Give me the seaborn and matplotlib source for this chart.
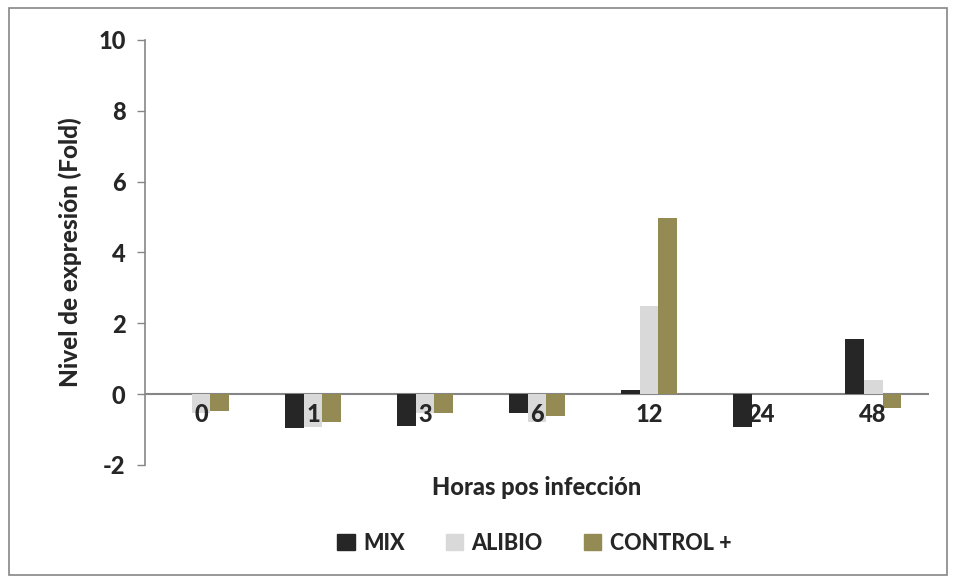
import pandas as pd
import seaborn as sns
import matplotlib.pyplot as plt
from matplotlib.patches import Rectangle

horas = ['0', '1', '3', '6', '12', '24', '48']
mix = [0.0, -0.96, -0.9, -0.54, 0.11, -0.92, 1.56]
alibio = [-0.54, -0.92, -0.54, -0.78, 2.5, 0.0, 0.39]
control = [-0.48, -0.78, -0.53, -0.62, 4.98, 0.0, -0.39]
series = ['MIX', 'ALIBIO', 'CONTROL +']
colores = ['#262626', '#d9d9d9', '#948a54']

df = pd.DataFrame({'hora': horas * 3,
                   'serie': [s for s in series for _ in horas],
                   'valor': mix + alibio + control})

sns.set_style('white')
plt.rcParams['font.family'] = ['Lato', 'DejaVu Sans']

fig = plt.figure(figsize=(9.54, 5.79), dpi=100)
ax = fig.add_axes([0.152, 0.197, 0.822, 0.734])
sns.barplot(data=df, x='hora', y='valor', hue='serie', order=horas,
            hue_order=series, palette=colores, width=0.5, ax=ax,
            saturation=1, edgecolor='none', linewidth=0)

ax.set_ylim(-2, 10)
ax.set_xlim(-0.5, 6.5)
ax.set_yticks(range(-2, 11, 2))
ax.set_yticklabels([str(v) for v in range(-2, 11, 2)], fontsize=17, fontweight=900)
ax.tick_params(axis='y', direction='out', length=6, width=1, color='#868686', pad=8, left=True)
ax.set_xticks([])
ax.axhline(0, color='#868686', lw=1.5, zorder=0)
for s in ['top', 'right', 'bottom']:
    ax.spines[s].set_visible(False)
ax.spines['left'].set_color('#868686')
ax.spines['left'].set_linewidth(1.2)

for i, h in enumerate(horas):
    ax.text(i, -0.25, h, ha='center', va='top', fontsize=17, fontweight=900)

ax.set_xlabel('')
ax.set_ylabel('Nivel de expresión (Fold)', fontsize=17.5, fontweight=900, labelpad=12)
fig.text(0.563, 0.158, 'Horas pos infección', ha='center', va='center',
         fontsize=17, fontweight=900)

ax.get_legend().remove()
handles = [Rectangle((0, 0), 1, 1, color=c) for c in colores]
fig.legend(handles, series, loc='center', bbox_to_anchor=(0.56, 0.062), ncol=3,
           frameon=False, handlelength=0.8, handleheight=0.8, columnspacing=1.9,
           handletextpad=0.4, prop={'size': 15.5, 'weight': 900})

fig.patches.append(Rectangle((0.009, 0.007), 0.984, 0.98, transform=fig.transFigure,
                             fill=False, edgecolor='#868686', lw=1.2))

fig.savefig('out.png', dpi=100)
